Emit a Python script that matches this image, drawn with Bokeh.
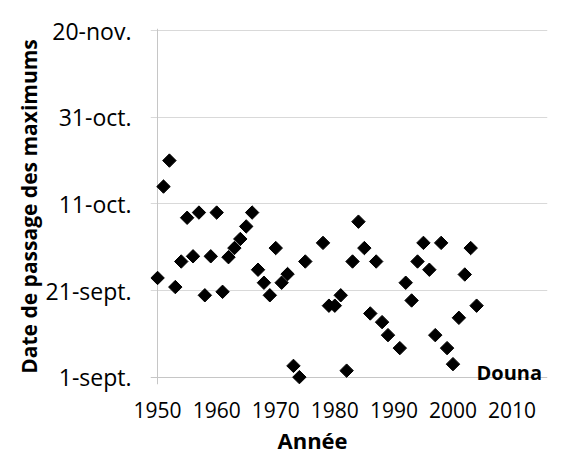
import math
from bokeh.plotting import figure
from bokeh.models import FixedTicker, Range1d, Label, Title, Grid
from bokeh.embed import file_html
from bokeh.resources import INLINE

# Data: year and date of passage (days after 1 September)
years = [1950, 1951, 1952, 1953, 1954, 1955, 1956, 1957, 1958, 1959,
         1960, 1961, 1962, 1963, 1964, 1965, 1966, 1967, 1968, 1969,
         1970, 1971, 1972, 1973, 1974, 1975, 1978, 1979, 1980, 1981,
         1982, 1983, 1984, 1985, 1986, 1987, 1988, 1989, 1991, 1992,
         1993, 1994, 1995, 1996, 1997, 1998, 1999, 2000, 2001, 2002,
         2003, 2004]
days = [22.9, 44, 50, 20.8, 26.7, 36.8, 27.9, 38, 18.9, 27.9,
        38, 19.7, 27.7, 29.8, 31.9, 34.8, 38, 24.8, 21.8, 18.9,
        29.8, 21.8, 23.8, 2.6, 0, 26.7, 31, 16.5, 16.5, 18.9,
        1.5, 26.7, 35.9, 29.8, 14.7, 26.7, 12.7, 9.7, 6.7, 21.8,
        17.7, 26.7, 31, 24.8, 9.7, 31, 6.7, 3, 13.7, 23.7,
        29.8, 16.5]

x_ticks = [1950, 1960, 1970, 1980, 1990, 2000, 2010]
y_ticks = [0, 20, 40, 60, 80]
y_tick_labels = ["1-sept.", "21-sept.", "11-oct.", "31-oct.", "20-nov."]
x_min, x_max = 1950, 2016
y_min, y_max = 0, 80
series_name = "Douna"

FONT = "Open Sans"
GRID = "#d9d9d9"
AXIS = "#c6c6c6"

p = figure(width=572, height=457,
           x_range=Range1d(1948.8, x_max), y_range=Range1d(-1.7, 80.5),
           output_backend="svg", toolbar_location=None,
           min_border_left=150, min_border_right=25,
           min_border_top=28, min_border_bottom=72)
p.outline_line_color = None
p.background_fill_color = "white"
p.border_fill_color = "white"

# axes
p.xaxis.ticker = FixedTicker(ticks=x_ticks)
p.yaxis.ticker = FixedTicker(ticks=y_ticks)
p.yaxis.major_label_overrides = {t: l for t, l in zip(y_ticks, y_tick_labels)}
for ax in (p.xaxis, p.yaxis):
    ax.axis_line_color = None
    ax.major_tick_line_color = None
    ax.minor_tick_line_color = None
    ax.major_tick_out = 0
    ax.major_tick_in = 0
    ax.major_label_text_font = FONT
    ax.major_label_text_color = "black"
p.xaxis.major_label_text_font_size = "21px"
p.yaxis.major_label_text_font_size = "23px"
p.xaxis.major_label_standoff = 17
p.yaxis.major_label_standoff = 19

p.yaxis.axis_label = "Date de passage des maximums"
p.yaxis.axis_label_text_font = FONT
p.yaxis.axis_label_text_font_style = "bold"
p.yaxis.axis_label_text_font_size = "21px"
p.yaxis.axis_label_text_color = "black"
p.yaxis.axis_label_standoff = 0

p.add_layout(Title(text="Année", align="left", offset=127, standoff=5,
                   text_font=FONT, text_font_style="bold",
                   text_font_size="22px", text_color="black"), "below")

# grid lines
p.xgrid.visible = False
p.ygrid.ticker = FixedTicker(ticks=y_ticks[1:])
p.ygrid.bounds = (x_min, x_max)
p.ygrid.grid_line_color = GRID
p.add_layout(Grid(dimension=1, ticker=FixedTicker(ticks=[y_min]),
                  bounds=(x_min, x_max), grid_line_color=AXIS))
p.add_layout(Grid(dimension=0, ticker=FixedTicker(ticks=[x_min]),
                  bounds=(y_min, y_max), grid_line_color=AXIS))

p.scatter(years, days, marker="square", angle=math.pi / 4, size=9.5,
          fill_color="black", line_color="black")

p.add_layout(Label(x=2003.98, y=1.06, text=series_name, text_font=FONT,
                   text_font_style="bold", text_font_size="20px",
                   text_color="black", text_baseline="alphabetic"))

open("out.html", "w").write(file_html(p, INLINE))
